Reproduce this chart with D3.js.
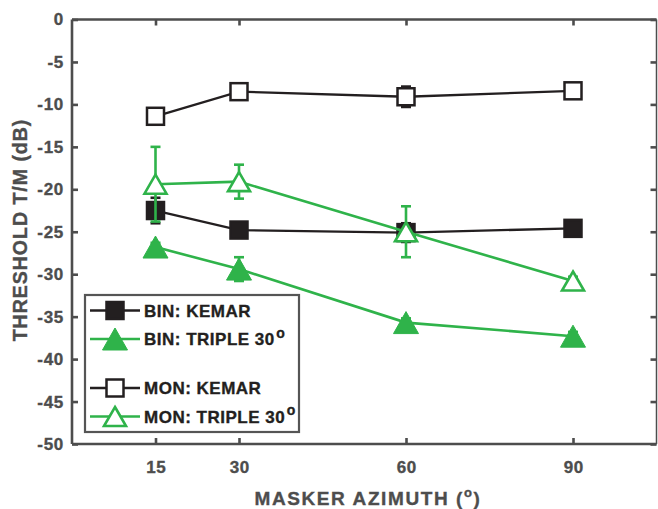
<!DOCTYPE html>
<html>
<head>
<meta charset="utf-8">
<script src="https://cdn.jsdelivr.net/npm/d3@7"></script>
<style>
  html, body { margin: 0; padding: 0; background: #fff; }
  svg { display: block; }
  text { font-family: "Liberation Sans", Arial, sans-serif; font-weight: bold; }
</style>
</head>
<body>
<svg id="chart" width="658" height="509"></svg>
<script>
// ---- data ----
const azimuths = [15, 30, 60, 90];
const xTicks = [15, 30, 60, 90];
const yTicks = [0, -5, -10, -15, -20, -25, -30, -35, -40, -45, -50];

const binKemar = [-22.5, -24.8, -25.1, -24.6];
const binKemarErr = [1.5, 0.6, 1.1, 0.5];
const binTriple = [-26.8, -29.4, -35.7, -37.3];
const binTripleErr = [0.5, 1.4, 0.5, 0.5];
const monKemar = [-11.4, -8.5, -9.1, -8.4];
const monKemarErr = [0.5, 0.5, 1.2, 0.5];
const monTriple = [-19.4, -19.1, -25.0, -30.8];
const monTripleErr = [4.4, 2.0, 3.0, 0.5];

const seriesNames = ["BIN: KEMAR", "BIN: TRIPLE 30", "MON: KEMAR", "MON: TRIPLE 30"];

const BLACK = "#231f20";
const GREEN = "#2fb34a";
const AXIS = "#4d4d4d";

const series = [
  { name: seriesNames[0], values: binKemar, err: binKemarErr, color: BLACK, shape: "square", filled: true, deg: false },
  { name: seriesNames[1], values: binTriple, err: binTripleErr, color: GREEN, shape: "triangle", filled: true, deg: true },
  { name: seriesNames[2], values: monKemar, err: monKemarErr, color: BLACK, shape: "square", filled: false, deg: false },
  { name: seriesNames[3], values: monTriple, err: monTripleErr, color: GREEN, shape: "triangle", filled: false, deg: true }
];

// ---- layout ----
const pL = 72, pR = 656.5, pT = 19.5, pB = 444;
const x = d3.scaleLinear().domain([0, 105]).range([pL, pR]);
const y = d3.scaleLinear().domain([-50, 0]).range([pB, pT]);

const svg = d3.select("#chart");

// axes
const gx = svg.append("g").attr("transform", `translate(0,${pB})`)
  .call(d3.axisBottom(x).tickValues(xTicks).tickSize(-6).tickPadding(17).tickFormat(d => String(d)));
const gy = svg.append("g").attr("transform", `translate(${pL},0)`)
  .call(d3.axisLeft(y).tickValues(yTicks).tickSize(-6).tickPadding(8).tickFormat(d => String(d)));
const gxt = svg.append("g").attr("transform", `translate(0,${pT})`)
  .call(d3.axisTop(x).tickValues(xTicks).tickSize(-6).tickFormat(""));
const gyr = svg.append("g").attr("transform", `translate(${pR},0)`)
  .call(d3.axisRight(y).tickValues(yTicks).tickSize(-6).tickFormat(""));

[gx, gy, gxt, gyr].forEach(g => {
  g.selectAll(".domain").attr("stroke", AXIS).attr("stroke-width", 2.6);
  g.selectAll(".tick line").attr("stroke", AXIS).attr("stroke-width", 2.6);
  g.selectAll(".tick text").attr("fill", AXIS).attr("stroke", AXIS).attr("stroke-width", 0.35)
    .style("font-size", "17px").style("font-weight", "bold").style("letter-spacing", "0.7px")
    .style("font-family", "'Liberation Sans', Arial, sans-serif");
});
gx.selectAll(".tick text").attr("dx", "0.35px");
gyr.selectAll(".domain").attr("stroke-width", 1.5);
gx.selectAll(".domain").attr("d", `M${pL},0H${pR}`);
gxt.selectAll(".domain").attr("d", `M${pL},0H${pR}`);
gy.selectAll(".domain").attr("d", `M0,${pT}V${pB}`);
gyr.selectAll(".domain").attr("d", `M0,${pT}V${pB}`);

// axis titles
const xt = svg.append("text").attr("x", 368).attr("y", 505).attr("text-anchor", "middle")
  .attr("fill", AXIS).attr("stroke", AXIS).attr("stroke-width", 0.35)
  .style("font-size", "19px").style("letter-spacing", "1.6px");
xt.append("tspan").text("MASKER AZIMUTH (");
xt.append("tspan").attr("dy", -8).style("font-size", "13px").text("o");
xt.append("tspan").attr("dy", 8).text(")");

svg.append("text").attr("transform", `translate(27,230) rotate(-90)`).attr("text-anchor", "middle")
  .attr("fill", AXIS).attr("stroke", AXIS).attr("stroke-width", 0.35)
  .style("font-size", "19.5px").style("letter-spacing", "1px").text("THRESHOLD T/M (dB)");

// marker helper
function drawMarker(g, cx, cy, s) {
  if (s.shape === "square") {
    const w = 17;
    g.append("rect").attr("x", cx - w / 2).attr("y", cy - w / 2).attr("width", w).attr("height", w)
      .attr("fill", s.filled ? s.color : "#fff").attr("stroke", s.color).attr("stroke-width", 2.5);
  } else {
    const w = s.filled ? 25 : 22, h = s.filled ? 22 : 19;
    const pts = [[cx, cy - h / 2], [cx + w / 2, cy + h / 2], [cx - w / 2, cy + h / 2]];
    g.append("path").attr("d", d3.line()(pts) + "Z")
      .attr("fill", s.filled ? s.color : "#fff").attr("stroke", s.color)
      .attr("stroke-width", s.filled ? 1 : 2.6).attr("stroke-linejoin", "miter");
  }
}

// data series
const plot = svg.append("g");
series.forEach(s => {
  const g = plot.append("g");
  const lw = s.color === GREEN ? 2.6 : 2.3;
  // error bars
  azimuths.forEach((a, i) => {
    const cx = x(a), y1 = y(s.values[i] + s.err[i]), y2 = y(s.values[i] - s.err[i]);
    g.append("line").attr("x1", cx).attr("x2", cx).attr("y1", y1).attr("y2", y2)
      .attr("stroke", s.color).attr("stroke-width", lw);
    [y1, y2].forEach(yy => g.append("line").attr("x1", cx - 5).attr("x2", cx + 5).attr("y1", yy).attr("y2", yy)
      .attr("stroke", s.color).attr("stroke-width", 2.6));
  });
  // line
  g.append("path").datum(azimuths.map((a, i) => [x(a), y(s.values[i])]))
    .attr("d", d3.line()).attr("fill", "none").attr("stroke", s.color).attr("stroke-width", lw);
  // markers
  azimuths.forEach((a, i) => drawMarker(g, x(a), y(s.values[i]), s));
});

// legend
const leg = svg.append("g");
leg.append("rect").attr("x", 85).attr("y", 295).attr("width", 214).attr("height", 137)
  .attr("fill", "#fff").attr("stroke", "#555").attr("stroke-width", 2.2);
const legY = [310.5, 339, 388, 416.5];
series.forEach((s, i) => {
  const ly = legY[i];
  leg.append("line").attr("x1", 90).attr("x2", 140).attr("y1", ly).attr("y2", ly)
    .attr("stroke", s.color).attr("stroke-width", s.color === GREEN ? 2.6 : 2.3);
  drawMarker(leg, 115, ly, s);
  const t = leg.append("text").attr("x", 144).attr("y", ly + 6.3).attr("fill", BLACK)
    .attr("stroke", BLACK).attr("stroke-width", 0.35)
    .style("font-size", "17px").style("letter-spacing", "0.5px");
  t.append("tspan").text(s.name);
  if (s.deg) {
    t.append("tspan").attr("dx", 1.5).attr("dy", -7.5).style("font-size", "14px").text("o");
  }
});
</script>
</body>
</html>
